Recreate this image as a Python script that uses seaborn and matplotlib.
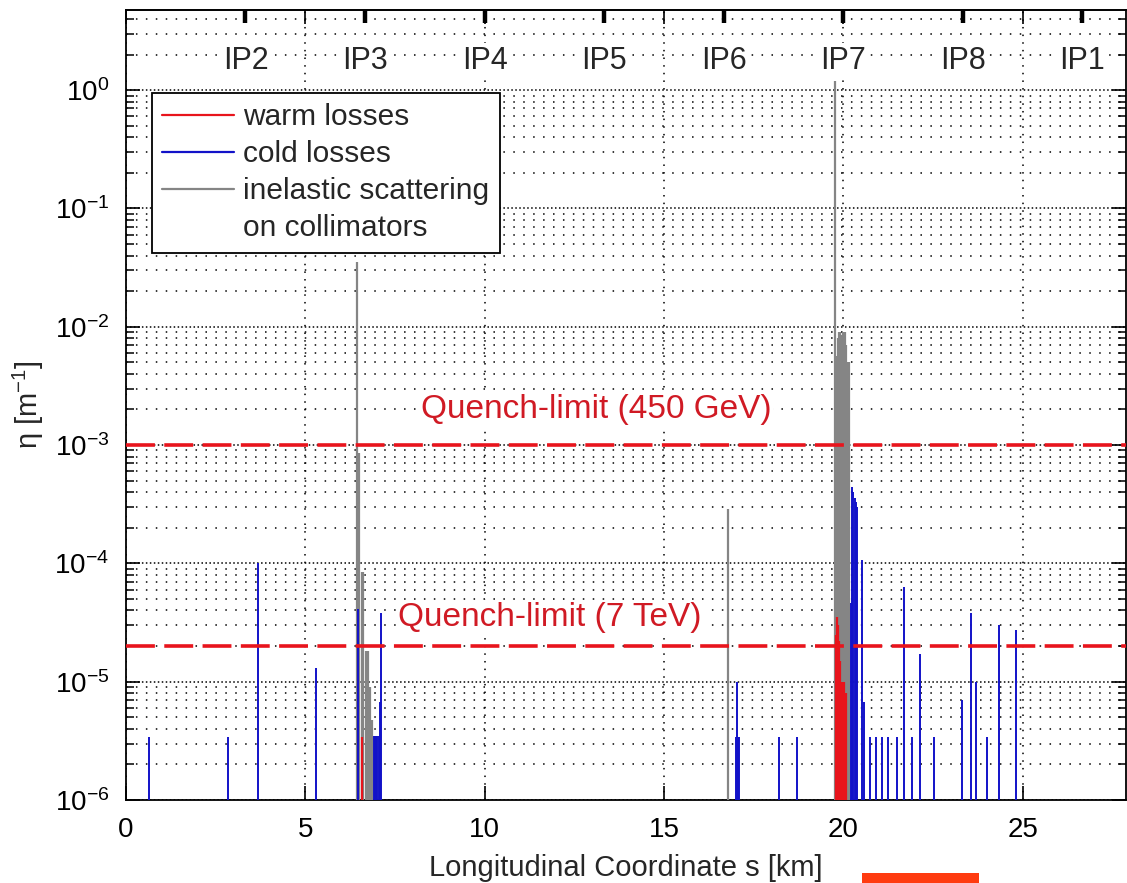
import numpy as np
import pandas as pd
import matplotlib
matplotlib.use("Agg")
import matplotlib.pyplot as plt
import seaborn as sns
from matplotlib.patches import Rectangle
from matplotlib.lines import Line2D
from matplotlib.ticker import NullFormatter, FixedLocator, LogFormatterSciNotation

# ---------------------------------------------------------------- data ----
# warm-magnet losses: position s [km], local inefficiency eta [1/m]
warm_s = [6.57, 19.80, 19.82, 19.85, 19.88, 19.91, 19.95, 19.99, 20.03, 20.06]
warm_eta = [3.4e-6, 2.5e-5, 3.5e-5, 3.0e-5, 2.2e-5, 1.5e-5, 1.0e-5, 1.0e-5, 1.0e-5, 8e-6]

# cold-magnet losses
cold_s = [0.65, 2.85, 3.67, 5.30,
          6.46, 6.92, 6.95, 6.98, 7.01, 7.04, 7.08, 7.10,
          17.00, 17.03, 17.06, 17.09, 18.20, 18.70,
          20.21, 20.24, 20.28, 20.32, 20.36, 20.39, 20.52, 20.57,
          20.74, 20.91, 21.07, 21.24, 21.50, 21.69, 21.90, 22.15, 22.53,
          23.30, 23.57, 23.70, 24.00, 24.34, 24.80]
cold_eta = [3.4e-6, 3.4e-6, 1.0e-4, 1.3e-5,
            4.1e-5, 3.5e-6, 3.5e-6, 3.5e-6, 3.5e-6, 3.5e-6, 6.8e-6, 3.8e-5,
            3.4e-6, 1.0e-5, 3.4e-6, 3.4e-6, 3.4e-6, 3.4e-6,
            4.6e-5, 4.4e-4, 4.0e-4, 3.6e-4, 3.3e-4, 3.0e-4, 1.07e-4, 6.8e-6,
            3.4e-6, 3.4e-6, 3.4e-6, 3.4e-6, 3.4e-6, 6.3e-5, 3.4e-6, 1.7e-5, 3.4e-6,
            7.0e-6, 3.8e-5, 1.0e-5, 3.4e-6, 3.0e-5, 2.75e-5]

# inelastic scattering on collimators
coll_s = [6.45, 6.50, 6.58, 6.62, 6.68, 6.74, 6.80, 6.86,
          16.78,
          19.77, 19.80, 19.84, 19.88, 19.92, 19.96, 20.00, 20.04, 20.08, 20.12, 20.16]
coll_eta = [3.5e-2, 8.5e-4, 8.5e-5, 8.5e-5, 1.8e-5, 1.8e-5, 9e-6, 4.7e-6,
            2.9e-4,
            1.2, 5.7e-3, 8e-3, 9e-3, 9e-3, 8.5e-3, 9e-3, 9e-3, 7e-3, 5e-3, 5e-3]

# interaction points around the ring
ip_names = ["IP2", "IP3", "IP4", "IP5", "IP6", "IP7", "IP8", "IP1"]
ip_s = [3.33, 6.66, 10.00, 13.33, 16.66, 19.99, 23.33, 26.66]

# axis ticks
s_ticks = [0, 5, 10, 15, 20, 25]
eta_decades = [1e-6, 1e-5, 1e-4, 1e-3, 1e-2, 1e-1, 1e0]

# quench limits
quench_eta = [1e-3, 2e-5]
quench_text = ["Quench-limit (450 GeV)", "Quench-limit (7 TeV)"]
quench_text_s = [13.1, 11.82]
quench_text_eta = [2.0e-3, 3.5e-5]

# ---------------------------------------------------------------- style ---
sns.set_theme(style="white")
plt.rcParams["font.family"] = ["Liberation Sans", "DejaVu Sans"]
plt.rcParams["mathtext.fontset"] = "custom"
plt.rcParams["mathtext.rm"] = "Liberation Sans"
plt.rcParams["mathtext.it"] = "Liberation Sans:italic"
plt.rcParams["mathtext.default"] = "regular"

RED = "#e8141c"
BLUE = "#1212c8"
GREY = "#858585"
TXT_RED = "#d01a24"

W, H = 1127, 883
fig = plt.figure(figsize=(W / 100, H / 100), dpi=100)
fig.patch.set_facecolor("white")
ax = fig.add_axes([126 / W, 83 / H, 1000 / W, 790 / H])
ax.set_facecolor("white")

xmax = 27.88
ymax = 4.76
ax.set_xlim(0, xmax)
ax.set_yscale("log")
ax.set_ylim(1e-6, ymax)

# sub-decade positions inside the visible range
eta_minor = [m * d for d in eta_decades for m in range(2, 10) if m * d <= ymax]

# grid: decades densely dotted, sub-decades sparsely dotted
ax.yaxis.set_major_locator(FixedLocator(eta_decades))
ax.yaxis.set_major_formatter(LogFormatterSciNotation())
ax.yaxis.set_minor_locator(FixedLocator(eta_minor))
ax.yaxis.set_minor_formatter(NullFormatter())
ax.xaxis.set_major_locator(FixedLocator(s_ticks))
ax.set_axisbelow(True)
ax.grid(which="major", axis="y", color="black", linestyle=(0, (1, 1.6)), lw=1.1)
ax.grid(which="minor", axis="y", color="black", linestyle=(0, (1, 5.5)), lw=1.1)
ax.grid(which="major", axis="x", color="black", linestyle=(0, (1, 4.0)), lw=1.1)

# loss spikes
ax.vlines(coll_s, 1e-6, coll_eta, color=GREY, lw=1.6, zorder=3)
ax.vlines(warm_s, 1e-6, warm_eta, color=RED, lw=1.6, zorder=4)
ax.vlines(cold_s, 1e-6, cold_eta, color=BLUE, lw=1.4, zorder=5)

# quench limits
for q in quench_eta:
    sns.lineplot(x=[0, xmax], y=[q, q], color=RED, lw=2.6,
                 linestyle=(0, (8, 2.6)), ax=ax, zorder=6, legend=False)
for s, e, t in zip(quench_text_s, quench_text_eta, quench_text):
    ax.text(s, e, t, color=TXT_RED, fontsize=24, ha="center", va="center",
            zorder=7, bbox=dict(facecolor="white", edgecolor="none", pad=1.5))

# interaction point labels
for s, name in zip(ip_s, ip_names):
    ax.text(s, 0.936, name, transform=ax.get_xaxis_transform(), fontsize=22,
            ha="center", va="center", zorder=7,
            bbox=dict(facecolor="white", edgecolor="none", pad=2.0))

# axes frame and ticks
for sp in ax.spines.values():
    sp.set_color("black")
    sp.set_linewidth(1.3)
ax.tick_params(which="both", direction="in", left=True, right=True,
               bottom=True, top=True, colors="black", labelsize=20)
ax.tick_params(which="major", length=10, width=1.2)
ax.tick_params(which="minor", length=6, width=1.1)
ax.tick_params(axis="x", which="minor", bottom=False, top=False)
ax.tick_params(axis="x", pad=12)
ax.tick_params(axis="y", pad=12)

secax = ax.secondary_xaxis("top")
secax.set_xticks(ip_s)
secax.set_xticklabels([])
secax.tick_params(direction="in", length=9, width=3.2, labeltop=False,
                  labelbottom=False, colors="black")
secax.spines["top"].set_linewidth(1.3)

ax.set_xlabel("Longitudinal Coordinate s [km]", fontsize=21, labelpad=8)
ax.set_ylabel(r"$\eta$ [m$^{-1}$]", fontsize=21, labelpad=6)

# legend
handles = [Line2D([], [], color=RED, lw=1.6),
           Line2D([], [], color=BLUE, lw=1.6),
           Line2D([], [], color=GREY, lw=1.6),
           Line2D([], [], color="none", lw=1.6)]
labels = ["warm losses", "cold losses", "inelastic scattering", "on collimators"]
leg = ax.legend(handles, labels, loc="upper left", bbox_to_anchor=(0.026, 0.895),
                fontsize=21.5, frameon=True, fancybox=False, framealpha=1,
                edgecolor="black", handlelength=2.4, handletextpad=0.3,
                borderpad=0.35, labelspacing=0.3, borderaxespad=0)
leg.get_frame().set_linewidth(1.3)
leg.set_zorder(10)

# marker strip below the axis
fig.patches.append(Rectangle((862 / W, 0), 117 / W, 10 / H, transform=fig.transFigure,
                             facecolor="#ff3b10", edgecolor="none"))

fig.savefig("out.png", dpi=100, facecolor="white")
